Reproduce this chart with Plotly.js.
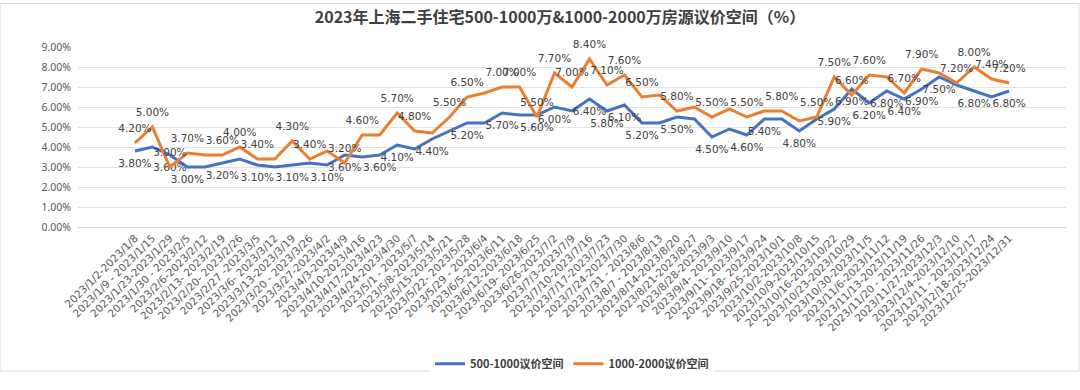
<!DOCTYPE html>
<html>
<head>
<meta charset="utf-8">
<script src="https://cdn.plot.ly/plotly-3.0.1.min.js"></script>
<style>html,body{margin:0;padding:0;background:#fff;}#chart{width:1080px;height:390px;}</style>
</head>
<body>
<div id="chart"></div>
<script>
const categories = [
  "2023/1/2-2023/1/8","2023/1/9 - 2023/1/15","2023/1/23-2023/1/29","2023/1/30 - 2023/2/5",
  "2023/2/6-2023/2/12","2023/2/13- 2023/2/19","2023/2/20- 2023/2/26","2023/2/27 -2023/3/5",
  "2023/3/6- 2023/3/12","2023/3/13-2023/3/19","2023/3/20 - 2023/3/26","2023/3/27-2023/4/2",
  "2023/4/3-2023/4/9","2023/4/10-2023/4/16","2023/4/17-2023/4/23","2023/4/24-2023/4/30",
  "2023/5/1 - 2023/5/7","2023/5/8-2023/5/14","2023/5/15-2023/5/21","2023/5/22- 2023/5/28",
  "2023/5/29 - 2023/6/4","2023/6/5-2023/6/11","2023/6/12-2023/6/18","2023/6/19- 2023/6/25",
  "2023/6/26-2023/7/2","2023/7/3-2023/7/9","2023/7/10-2023/7/16","2023/7/17-2023/7/23",
  "2023/7/24-2023/7/30","2023/7/31 - 2023/8/6","2023/8/7 - 2023/8/13","2023/8/14-2023/8/20",
  "2023/8/21-2023/8/27","2023/8/28-2023/9/3","2023/9/4- 2023/9/10","2023/9/11- 2023/9/17",
  "2023/9/18- 2023/9/24","2023/9/25-2023/10/1","2023/10/2-2023/10/8","2023/10/9-2023/10/15",
  "2023/10/16-2023/10/22","2023/10/23-2023/10/29","2023/10/30-2023/11/5","2023/11/6-2023/11/12",
  "2023/11/13-2023/11/19","2023/11/20 - 2023/11/26","2023/11/27-2023/12/3","2023/12/4-2023/12/10",
  "2023/12/11 - 2023/12/17","2023/12/18-2023/12/24","2023/12/25-2023/12/31"
];
const seriesNames = ["500-1000议价空间", "1000-2000议价空间"];
const blueValues = [
  3.8,4.0,3.6,3.0,3.0,3.2,3.4,3.1,3.0,3.1,3.2,3.1,3.6,3.5,3.6,4.1,3.9,4.4,4.8,5.2,
  5.2,5.7,5.6,5.6,6.0,5.8,6.4,5.8,6.1,5.2,5.2,5.5,5.4,4.5,4.9,4.6,5.4,5.4,4.8,5.4,
  5.9,6.9,6.2,6.8,6.4,6.9,7.5,7.1,6.8,6.5,6.8
];
const orangeValues = [
  4.2,5.0,3.0,3.7,3.6,3.6,4.0,3.4,3.4,4.3,3.4,3.8,3.2,4.6,4.6,5.7,4.8,4.7,5.5,6.5,
  6.7,7.0,7.0,5.5,7.7,7.0,8.4,7.1,7.6,6.5,6.6,5.8,6.0,5.5,5.9,5.5,5.8,5.8,5.3,5.5,
  7.5,6.6,7.6,7.5,6.7,7.9,7.7,7.2,8.0,7.4,7.2
];
// which points carry a data label (1 = shown)
const blueLabeled = [
  1,0,1,1,0,1,0,1,0,1,0,1,1,0,1,1,0,1,0,1,
  0,1,0,1,1,0,1,1,1,1,0,1,0,1,0,1,1,0,1,0,
  1,1,1,1,1,1,1,0,1,0,1
];
const orangeLabeled = [
  1,1,1,1,0,1,1,1,0,1,1,0,1,1,0,1,1,0,1,1,
  0,1,1,1,1,1,1,1,1,1,0,1,0,1,0,1,0,1,0,1,
  1,1,1,0,1,1,0,1,1,1,1
];
const yTicks = [0,1,2,3,4,5,6,7,8,9];

const fmt = (v) => v.toFixed(2) + "%";
const blueText = blueValues.map((v, i) => blueLabeled[i] ? fmt(v) : "");
const orangeText = orangeValues.map((v, i) => orangeLabeled[i] ? fmt(v) : "");
const yTickText = yTicks.map(fmt);

const labelFont = {family: "DejaVu Sans, sans-serif", size: 10.5, color: "#404040"};

const traces = [
  {
    x: categories, y: blueValues, name: seriesNames[0], type: "scatter", mode: "lines+markers+text",
    line: {color: "#4472C4", width: 3}, marker: {size: 12, color: "rgba(0,0,0,0)"},
    text: blueText, textposition: "bottom center",
    textfont: labelFont, cliponaxis: false, hoverinfo: "x+y"
  },
  {
    x: categories, y: orangeValues, name: seriesNames[1], type: "scatter", mode: "lines+markers+text",
    line: {color: "#ED7D31", width: 3}, marker: {size: 12, color: "rgba(0,0,0,0)"},
    text: orangeText, textposition: "top center",
    textfont: labelFont, cliponaxis: false, hoverinfo: "x+y"
  }
];

const layout = {
  width: 1080, height: 390,
  margin: {l: 78, r: 14, t: 47, b: 153},
  paper_bgcolor: "#ffffff", plot_bgcolor: "#ffffff",
  font: {family: "Noto Sans CJK SC, Noto Sans, sans-serif", color: "#595959"},
  title: {
    text: "<b>2023年上海二手住宅500-1000万&1000-2000万房源议价空间（%）</b>",
    x: 0.5185, xanchor: "center", y: 0.955, yanchor: "middle",
    font: {family: "Noto Sans CJK SC, sans-serif", size: 16, color: "#404040"}
  },
  xaxis: {
    type: "category", tickangle: -45, automargin: false,
    tickfont: {family: "DejaVu Sans, sans-serif", size: 10.5, color: "#595959"},
    showgrid: false, showline: true, linecolor: "#d9d9d9", linewidth: 1,
    ticks: "", fixedrange: true
  },
  yaxis: {
    range: [0, 9], tickmode: "array", tickvals: yTicks, ticktext: yTickText,
    tickfont: {family: "Noto Sans, sans-serif", size: 10.5, color: "#595959"},
    ticklabelstandoff: 6,
    showgrid: true, gridcolor: "#e3e3e3", gridwidth: 1, zeroline: false,
    showline: false, ticks: "", automargin: false, fixedrange: true
  },
  showlegend: true,
  legend: {
    orientation: "h", x: 0.5, xanchor: "center", y: -0.76, yanchor: "middle",
    font: {size: 11, color: "#404040", family: "Noto Sans CJK SC, sans-serif", weight: "bold"}
  },
  shapes: [{
    type: "rect", xref: "paper", yref: "paper",
    x0: -78/988, x1: 1 + 13/988, y0: -152/190, y1: 1 + 46/190,
    line: {color: "#d9d9d9", width: 1}
  }]
};

Plotly.newPlot("chart", traces, layout, {displayModeBar: false, staticPlot: true});
</script>
</body>
</html>
